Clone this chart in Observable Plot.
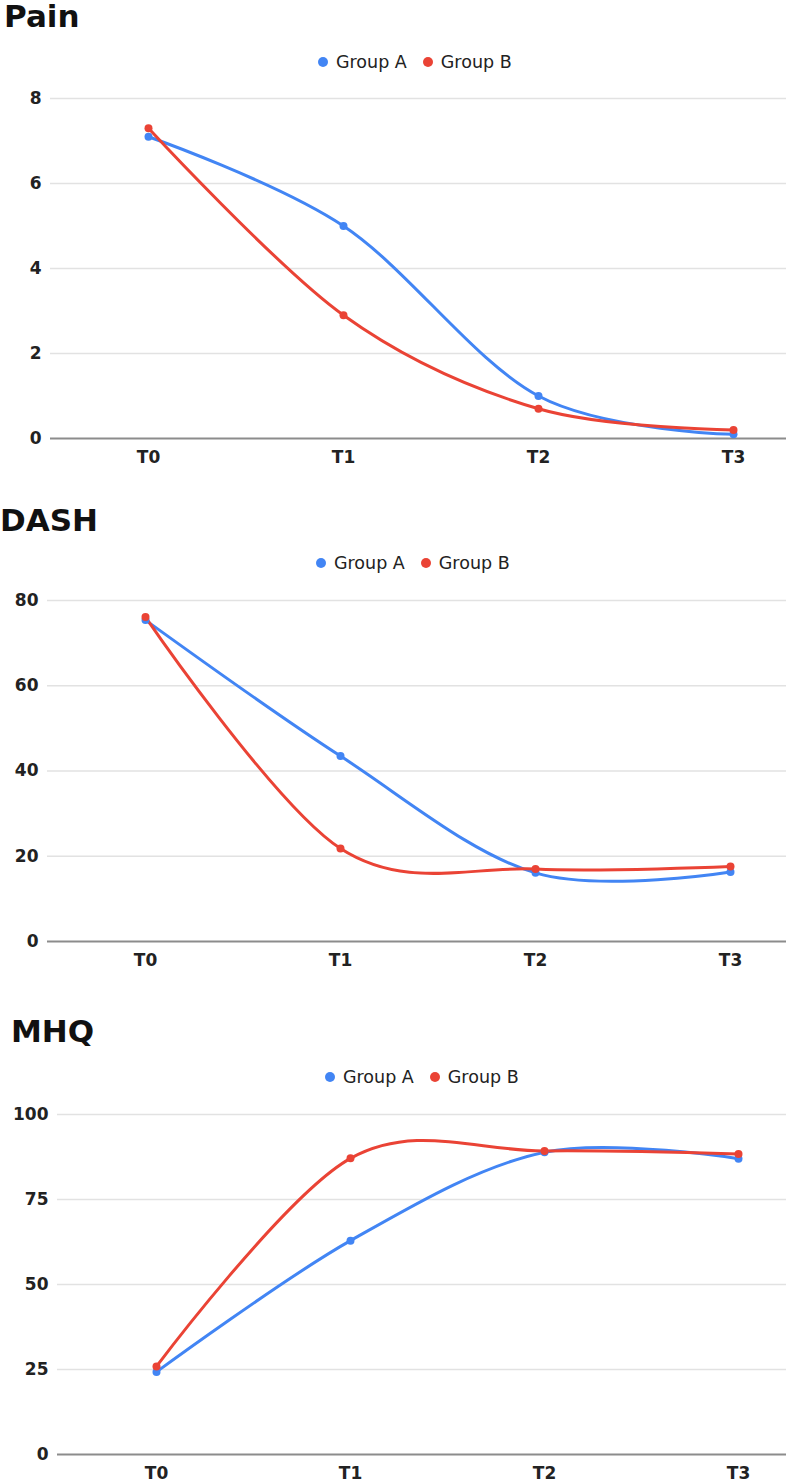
<!DOCTYPE html>
<html>
<head>
<meta charset="utf-8">
<script src="https://cdn.jsdelivr.net/npm/d3@7"></script>
<script src="https://cdn.jsdelivr.net/npm/@observablehq/plot@0.6"></script>
<style>
  html, body { margin: 0; padding: 0; background: #fff; }
  body { width: 786px; height: 1480px; position: relative; overflow: hidden; font-family: "DejaVu Sans", sans-serif; }
  .title { position: absolute; font-family: "DejaVu Sans", sans-serif; font-weight: bold; font-size: 31px; line-height: 31px; color: #111; margin: 0; }
  .legend { position: absolute; display: flex; align-items: center; font-family: "DejaVu Sans", sans-serif; font-size: 17.5px; line-height: 20px; color: #222; white-space: nowrap; }
  .legend .sw { display: inline-block; width: 10px; height: 10px; border-radius: 50%; margin-right: 8px; }
  .legend .item { display: flex; align-items: center; margin-right: 16px; }
  .chart { position: absolute; left: 0; }
</style>
</head>
<body>
<script>
const periods = ["T0", "T1", "T2", "T3"];
const groups = ["Group A", "Group B"];
const groupColors = ["#4285F4", "#EA4335"];

const painA = [7.1, 5.0, 1.0, 0.1];
const painB = [7.3, 2.9, 0.7, 0.2];
const painTicks = [0, 2, 4, 6, 8];

const dashA = [75.4, 43.5, 16.1, 16.3];
const dashB = [76.1, 21.8, 17.0, 17.6];
const dashTicks = [0, 20, 40, 60, 80];

const mhqA = [24.3, 62.9, 88.9, 87.0];
const mhqB = [25.9, 87.1, 89.3, 88.4];
const mhqTicks = [0, 25, 50, 75, 100];

function rows(a, b) {
  const out = [];
  periods.forEach((p, i) => out.push({period: p, group: groups[0], value: a[i]}));
  periods.forEach((p, i) => out.push({period: p, group: groups[1], value: b[i]}));
  return out;
}

function addTitle(text, left, top) {
  const t = document.createElement("div");
  t.className = "title";
  t.textContent = text;
  t.style.left = left + "px";
  t.style.top = top + "px";
  document.body.appendChild(t);
}

function addLegend(left, centerY) {
  const l = document.createElement("div");
  l.className = "legend";
  l.style.left = left + "px";
  l.style.top = (centerY - 10) + "px";
  groups.forEach((g, i) => {
    const it = document.createElement("span");
    it.className = "item";
    const sw = document.createElement("span");
    sw.className = "sw";
    sw.style.background = groupColors[i];
    it.appendChild(sw);
    it.appendChild(document.createTextNode(g));
    l.appendChild(it);
  });
  document.body.appendChild(l);
}

function addChart({data, ticks, top, height, marginTop, marginBottom, marginLeft, xRange}) {
  const chart = Plot.plot({
    width: 786,
    height,
    marginTop,
    marginBottom,
    marginLeft,
    marginRight: 0,
    style: {fontSize: "17px", fontFamily: "DejaVu Sans, sans-serif", fontWeight: "bold", color: "#222", background: "transparent", overflow: "visible"},
    x: {type: "point", domain: periods, range: xRange, padding: 0, label: null},
    y: {domain: [ticks[0], ticks[ticks.length - 1]], label: null},
    color: {domain: groups, range: groupColors},
    marks: [
      Plot.ruleY(ticks.slice(1), {stroke: "#e2e2e2", strokeWidth: 1.3}),
      Plot.ruleY([ticks[0]], {stroke: "#8c8c8c", strokeWidth: 2}),
      Plot.line(data, {x: "period", y: "value", z: "group", stroke: "group", curve: "cardinal", strokeWidth: 3, strokeLinejoin: "round", strokeLinecap: "round"}),
      Plot.dot(data, {x: "period", y: "value", fill: "group", r: 4}),
      Plot.axisY({ticks, tickSize: 0, tickPadding: 9, tickFormat: d => String(d)}),
      Plot.axisX({tickSize: 0, tickPadding: 12})
    ]
  });
  chart.classList.add("chart");
  chart.style.top = top + "px";
  chart.style.position = "absolute";
  chart.style.left = "0px";
  document.body.appendChild(chart);
}

addTitle("Pain", 4, 1);
addLegend(318, 62);
addChart({data: rows(painA, painB), ticks: painTicks, top: 80, height: 400, marginTop: 18, marginBottom: 42, marginLeft: 50, xRange: [147, 733]});

addTitle("DASH", 0, 505);
addLegend(316, 563);
addChart({data: rows(dashA, dashB), ticks: dashTicks, top: 580, height: 400, marginTop: 20, marginBottom: 39, marginLeft: 47, xRange: [145, 730]});

addTitle("MHQ", 11, 1016);
addLegend(325, 1077);
addChart({data: rows(mhqA, mhqB), ticks: mhqTicks, top: 1094, height: 386, marginTop: 20, marginBottom: 26, marginLeft: 57, xRange: [155, 738]});
</script>
</body>
</html>
